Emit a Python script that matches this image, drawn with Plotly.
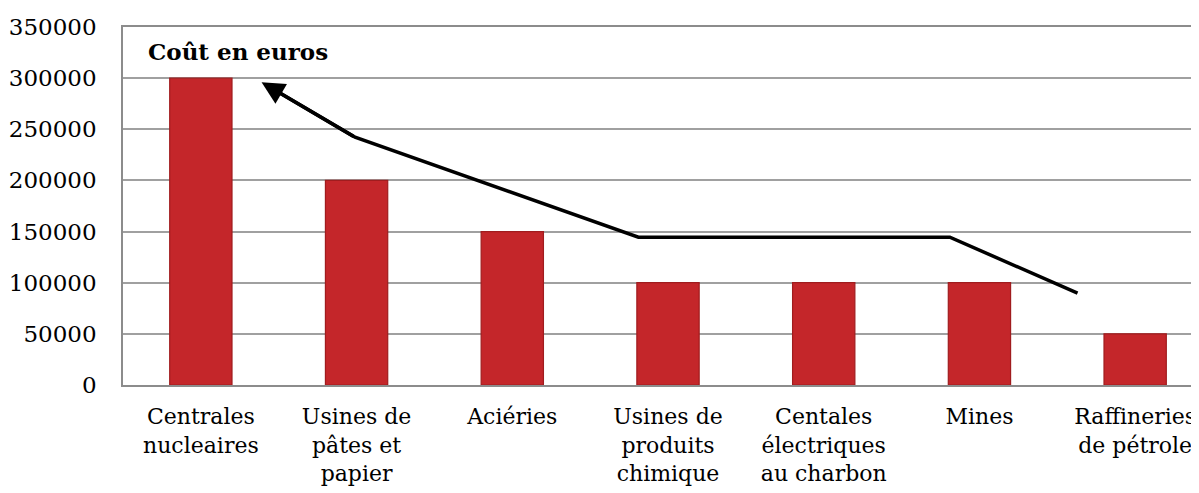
import plotly.graph_objects as go

categories = ["Centrales<br>nucleaires", "Usines de<br>pâtes et<br>papier", "Aciéries",
              "Usines de<br>produits<br>chimique", "Centales<br>électriques<br>au charbon",
              "Mines", "Raffineries<br>de pétrole"]
costs = [300000, 200000, 150000, 100000, 100000, 100000, 50000]
y_ticks = [0, 50000, 100000, 150000, 200000, 250000, 300000, 350000]
title_text = "<b>Coût en euros</b>"

# hand-drawn trend arrow (category-position, value)
arrow_x = [5.63, 4.81, 2.81, 0.99, 0.39]
arrow_y = [89800, 144500, 144500, 242200, 295900]

FONT = "DejaVu Serif"
fig = go.Figure()
fig.add_trace(go.Bar(
    x=list(range(len(categories))), y=costs, width=0.40,
    marker=dict(color="#c4262a", line=dict(color="#a01c1e", width=1.2)),
    hoverinfo="y",
))
fig.add_trace(go.Scatter(
    x=arrow_x[:-1] + [0.45], y=arrow_y[:-1] + [290500], mode="lines",
    line=dict(color="black", width=3.5), hoverinfo="skip",
))
fig.add_annotation(
    x=arrow_x[-1], y=arrow_y[-1], ax=arrow_x[-2], ay=arrow_y[-2],
    xref="x", yref="y", axref="x", ayref="y",
    showarrow=True, arrowhead=2, arrowsize=1.3, arrowwidth=3.5, arrowcolor="black", text="",
)
fig.add_annotation(
    x=(146 - 123) / 1076, y=(385 - 51) / 358, xref="paper", yref="paper",
    xanchor="left", yanchor="middle", text=title_text, showarrow=False,
    font=dict(family=FONT, size=23, color="black"),
)
fig.update_layout(
    width=1191, height=485,
    margin=dict(l=115, r=0, t=19, b=108),
    paper_bgcolor="white", plot_bgcolor="white",
    showlegend=False,
    font=dict(family=FONT, size=22, color="black"),
    bargap=0.6,
)
fig.update_xaxes(
    tickmode="array", tickvals=list(range(len(categories))), ticktext=categories,
    range=[-0.5, 6.41], showgrid=False, showline=True, linecolor="#8c8c8c", linewidth=1.5,
    mirror=True, ticks="", ticklabelstandoff=11, automargin=False,
)
fig.update_yaxes(
    range=[0, 350000], tickvals=y_ticks, ticktext=[str(v) for v in y_ticks],
    showgrid=True, gridcolor="#a0a0a0", gridwidth=1.5, showline=True,
    linecolor="#8c8c8c", linewidth=1.5, mirror=True, ticks="", ticklabelstandoff=20,
    zeroline=False, automargin=False, tickfont=dict(size=23),
)
fig.write_html("out.html")
